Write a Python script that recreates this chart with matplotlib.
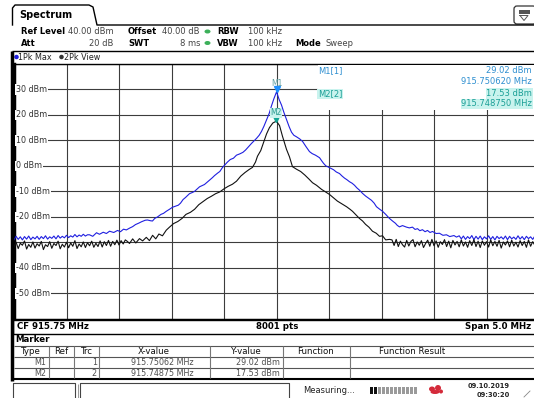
import numpy as np
import matplotlib.pyplot as plt
from matplotlib.patches import Rectangle, Ellipse, FancyBboxPatch

cf_mhz = 915.75
span_mhz = 5.0
ref_level = 40.0
level_ticks = [30, 20, 10, 0, -10, -20, -40, -50]
level_labels = ['30 dBm', '20 dBm', '10 dBm', '0 dBm', '-10 dBm', '-20 dBm', '-40 dBm', '-50 dBm']

# Trace 1 (1Pk Max, blau) - Rauschen links, -2500..-1800 kHz
trc1_noise_left = [-28.9, -27.6, -28.8, -27.8, -29.0, -27.7, -28.7, -27.5, -28.9, -27.9,
                   -28.6, -27.6, -28.8, -27.7, -28.5, -27.4, -28.7, -27.8, -28.4, -27.5,
                   -28.6, -27.3, -28.3, -27.6, -28.2, -27.2, -28.1, -27.4, -27.9, -26.9,
                   -27.8, -27.1, -27.6, -26.8, -27.5, -27.0]
# Trace 1 - Signalverlauf (Offset zur Mittenfrequenz in kHz)
trc1_khz = [-1781, -1750, -1714, -1686, -1650, -1620, -1590, -1550, -1514, -1486,
            -1457, -1430, -1400, -1370, -1343, -1310, -1286, -1250, -1229, -1200,
            -1181, -1160, -1133, -1100, -1076, -1050, -1019, -990, -962, -935,
            -914, -890, -867, -829, -800, -781, -750, -733, -700, -686,
            -660, -638, -610, -590, -560, -540, -514, -490, -467, -440,
            -410, -381, -350, -320, -295, -260, -238, -210, -190, -165,
            -143, -120, -95, -70, -48, -25, 0.62,
            25, 48, 70, 95, 120, 143, 165, 190, 220, 248,
            280, 314, 340, 371, 410, 430, 448, 470, 486, 515,
            543, 570, 600, 625, 648, 670, 695, 720, 743, 765,
            790, 820, 848, 875, 905, 930, 952, 980, 1010, 1040,
            1076, 1105, 1133, 1150, 1171, 1200, 1238, 1265, 1295, 1320,
            1343, 1365, 1390, 1415, 1438, 1462, 1486, 1520, 1552, 1585,
            1619, 1650, 1690, 1714]
trc1_dbm = [-27.0, -27.6, -26.2, -26.8, -26.0, -26.5, -25.6, -26.1, -25.3, -25.8,
            -24.8, -25.1, -24.4, -23.8, -23.0, -22.4, -21.9, -21.3, -21.2, -21.5,
            -21.6, -20.6, -20.0, -19.0, -18.6, -17.8, -17.0, -16.2, -15.8, -15.4,
            -14.6, -13.2, -12.4, -10.9, -10.4, -10.0, -8.8, -8.2, -7.6, -7.3,
            -6.4, -5.6, -4.6, -3.8, -2.8, -2.2, -0.6, 0.5, 1.5, 2.5,
            3.0, 4.2, 4.7, 5.3, 6.2, 7.8, 8.8, 10.0, 10.8, 12.0,
            13.5, 15.5, 18.0, 20.5, 23.5, 26.3, 29.02,
            26.0, 23.8, 21.0, 18.2, 15.4, 13.2, 12.0, 11.4, 10.6, 9.6,
            7.6, 5.6, 4.8, 4.2, 3.2, 2.0, 1.0, 0.0, -0.3, -0.9,
            -1.5, -2.4, -3.0, -4.0, -4.8, -5.4, -6.2, -6.8, -7.6, -8.6,
            -9.5, -10.8, -11.8, -12.6, -13.5, -14.6, -16.0, -16.9, -17.8, -19.0,
            -20.6, -21.6, -22.5, -23.3, -23.9, -23.4, -24.0, -24.3, -24.0, -24.9,
            -24.6, -25.4, -25.0, -25.8, -25.3, -26.1, -25.7, -26.5, -26.4, -27.2,
            -27.0, -27.7, -27.3, -27.9]
# Trace 1 - Rauschen rechts, 1740..2500 kHz
trc1_noise_right = [-27.4, -28.6, -27.5, -28.8, -27.7, -28.5, -27.3, -28.9, -27.6, -28.7,
                    -27.5, -28.9, -27.8, -28.6, -27.4, -28.8, -27.7, -29.0, -27.6, -28.5,
                    -27.8, -28.7, -27.5, -28.9, -27.6, -28.6, -27.9, -28.8, -27.4, -28.7,
                    -27.7, -28.9, -27.6, -28.5, -27.8, -28.8, -27.5, -28.6, -27.9]

# Trace 2 (2Pk View, schwarz) - Rauschen links, -2500..-1420 kHz
trc2_noise_left = [-31.8, -29.9, -32.4, -30.3, -31.1, -29.4, -32.6, -30.8, -31.9, -29.8,
                   -32.2, -30.5, -31.4, -29.6, -32.8, -30.9, -31.6, -29.7, -32.3, -30.4,
                   -31.2, -29.5, -32.5, -30.7, -31.8, -29.9, -32.1, -30.2, -31.5, -29.3,
                   -32.4, -30.6, -31.7, -29.8, -32.0, -30.1, -31.3, -29.5, -31.9, -30.3,
                   -31.6, -29.4, -31.8, -29.7, -31.2, -29.2, -31.5, -29.6, -30.9, -29.1,
                   -31.0, -29.3, -30.6, -29.0, -29.6]
trc2_khz = [-1400, -1370, -1340, -1305, -1275, -1240, -1210, -1180, -1150, -1120,
            -1086, -1050, -1019, -980, -940, -900, -862, -820, -780, -740,
            -700, -660, -620, -580, -540, -500, -460, -420, -381, -340,
            -300, -260, -229, -200, -181, -150, -120, -95, -67, -35, -1.25,
            29, 57, 95, 124, 152, 190, 230, 270, 310, 343,
            381, 429, 470, 505, 545, 580, 620, 667, 700, 724,
            760, 790, 820, 848, 880, 914, 950, 981, 1010, 1040, 1076]
trc2_dbm = [-30.4, -28.6, -30.2, -28.5, -29.4, -28.0, -29.3, -27.2, -28.6, -26.7,
            -27.4, -25.2, -24.0, -22.6, -21.8, -20.6, -19.0, -18.2, -17.0, -15.2,
            -14.0, -12.8, -11.9, -10.9, -10.2, -9.0, -8.0, -7.2, -6.0, -4.0,
            -2.6, -1.4, -0.6, 1.5, 3.8, 6.0, 9.5, 12.5, 15.0, 16.8, 17.53,
            15.8, 11.6, 6.5, 3.5, -0.3, -1.3, -2.2, -3.6, -5.2, -6.6,
            -7.6, -9.2, -10.3, -11.2, -12.6, -13.8, -14.8, -16.0, -17.0, -17.8,
            -19.3, -20.6, -21.6, -22.9, -24.0, -25.6, -26.4, -27.6, -27.4, -29.0, -28.8]
# Trace 2 - Rauschen rechts, 1100..2500 kHz
trc2_noise_right = [-29.0, -31.2, -28.8, -31.6, -29.5, -30.9, -31.8, -29.2, -31.4, -29.6,
                    -28.9, -31.7, -29.8, -31.1, -29.3, -32.0, -30.4, -29.1, -31.5, -28.8,
                    -31.3, -29.4, -31.9, -29.7, -30.8, -28.9, -31.6, -29.5, -32.1, -29.2,
                    -31.0, -29.6, -31.7, -29.0, -31.4, -29.8, -31.9, -29.3, -31.2, -28.9,
                    -31.6, -29.5, -32.0, -29.4, -31.1, -29.7, -31.8, -29.0, -31.3, -29.6,
                    -31.5, -29.2, -32.2, -29.8, -31.0, -29.4, -31.7, -29.1, -31.4, -29.9,
                    -31.8, -29.3, -31.2, -29.6, -31.9, -29.0, -31.5, -29.7, -31.1, -29.4,
                    -30.6]

# Marker
marker_names = ['M1', 'M2']
marker_trc = ['1', '2']
marker_freq = [915.75062, 915.74875]
marker_level = [29.02, 17.53]
marker_xtxt = ['915.75062 MHz', '915.74875 MHz']
marker_ytxt = ['29.02 dBm', '17.53 dBm']

# Traces zusammensetzen
f1 = np.concatenate([np.linspace(-2500, -1800, len(trc1_noise_left)), trc1_khz,
                     np.linspace(1740, 2500, len(trc1_noise_right))]) / 1000 + cf_mhz
l1 = np.concatenate([trc1_noise_left, trc1_dbm, trc1_noise_right])
f2 = np.concatenate([np.linspace(-2500, -1420, len(trc2_noise_left)), trc2_khz,
                     np.linspace(1100, 2500, len(trc2_noise_right))]) / 1000 + cf_mhz
l2 = np.concatenate([trc2_noise_left, trc2_dbm, trc2_noise_right])

W, H = 534, 398
fig = plt.figure(figsize=(W / 100, H / 100), dpi=100)
fig.patch.set_facecolor('white')

# Diagramm
ax = fig.add_axes([14 / W, 79 / H, 525 / W, 255.2 / H], zorder=1)
ax.set_facecolor('white')
ax.set_xlim(cf_mhz - span_mhz / 2, cf_mhz + span_mhz / 2)
ax.set_ylim(ref_level - 100, ref_level)
ax.set_xticks(cf_mhz + np.arange(-2.5, 2.51, 0.5))
ax.set_yticks(np.arange(-60, 41, 10))
ax.tick_params(length=0, labelbottom=False, labelleft=False)
ax.grid(True, color='#3c3c3c', lw=0.8)
ax.set_axisbelow(True)
ax.spines['right'].set_visible(False)
ax.spines['left'].set_linewidth(2.5)
for s in ['top', 'bottom']:
    ax.spines[s].set_linewidth(1.0)

ax.plot(f1, l1, color='#1f1fe0', lw=0.8, zorder=3)
ax.plot(f2, l2, color='#111111', lw=0.8, zorder=4)

for lvl, lab in zip(level_ticks, level_labels):
    ax.text(0.004, lvl, lab, transform=ax.get_yaxis_transform(), fontsize=5.8,
            color='#333333', va='center', ha='left', zorder=5,
            bbox=dict(fc='white', ec='none', pad=0.6))

# Markersymbole
ax.plot(marker_freq[0], marker_level[0] + 1, marker='v', color='#1e90ff', ms=5, zorder=6)
ax.plot(marker_freq[1], marker_level[1] + 1, marker='v', color='#12a595', ms=5, zorder=6)
ax.text(marker_freq[0], marker_level[0] + 3.3, 'M1', fontsize=5.5, color='#5f9ea0',
        ha='center', va='center', zorder=6)
ax.text(marker_freq[1], marker_level[1] + 3.3, 'M2', fontsize=5.5, color='#2a9a90',
        ha='center', va='center', zorder=6, bbox=dict(fc='#c9f3ee', ec='none', pad=0.3))

# Overlay in Pixelkoordinaten
ov = fig.add_axes([0, 0, 1, 1], zorder=5)
ov.set_xlim(0, W)
ov.set_ylim(H, 0)
ov.axis('off')
ov.patch.set_alpha(0)

def line(xs, ys, lw=1.0, c='black'):
    ov.plot(xs, ys, color=c, lw=lw, solid_capstyle='butt')

# Tab "Spectrum"
ov.plot([12.5, 12.5, 15, 89, 93, 97, 534], [25, 8, 5, 5, 7, 25, 25], color='black', lw=1)
ov.text(19, 15.5, 'Spectrum', fontsize=7, fontweight='bold', va='center')
ov.add_patch(FancyBboxPatch((514, 6), 22, 18, boxstyle='round,pad=0,rounding_size=3',
                            fc='white', ec='#333333', lw=0.9))
ov.add_patch(Rectangle((519, 10), 11, 3.5, fc='#555555', ec='none'))
ov.plot([520, 528, 524, 520], [15.5, 15.5, 20.5, 15.5], color='#555555', lw=0.7)

# Kopfzeile
hdr = dict(fontsize=6, va='center')
ov.text(21, 31.5, 'Ref Level', fontweight='bold', **hdr)
ov.text(68, 31.5, '40.00 dBm', color='#444444', **hdr)
ov.text(128, 31.5, 'Offset', fontweight='bold', **hdr)
ov.text(200, 31.5, '40.00 dB', color='#444444', ha='right', fontsize=6, va='center')
ov.text(21, 43, 'Att', fontweight='bold', **hdr)
ov.text(113, 43, '20 dB', color='#444444', ha='right', fontsize=6, va='center')
ov.text(128, 43, 'SWT', fontweight='bold', **hdr)
ov.text(200, 43, '8 ms', color='#444444', ha='right', fontsize=6, va='center')
for yy, lab in [(31.5, 'RBW'), (43, 'VBW')]:
    ov.add_patch(Ellipse((207.5, yy), 6, 4, fc='#3cb05a', ec='none'))
    ov.text(217, yy, lab, fontweight='bold', **hdr)
    ov.text(248, yy, '100 kHz', color='#444444', **hdr)
ov.text(295, 43, 'Mode', fontweight='bold', **hdr)
ov.text(325, 43, 'Sweep', color='#444444', **hdr)
line([12, 534], [50.5, 50.5])

# Trace-Zeile
ov.add_patch(Ellipse((16.5, 57), 4.5, 4.5, fc='#1f1fe0', ec='none'))
ov.text(18.5, 57, '1Pk Max', fontsize=5.8, va='center', color='#222222')
ov.add_patch(Ellipse((61.5, 57), 4.5, 4.5, fc='#333333', ec='none'))
ov.text(64, 57, '2Pk View', fontsize=5.8, va='center', color='#222222')
line([12, 12], [50.5, 381], lw=2.5)

# Markerinfo oben rechts
ov.add_patch(Rectangle((318, 64.8), 222, 45, fc='white', ec='none'))
mk1 = dict(fontsize=6, va='center', color='#2e8fd0')
mk2 = dict(fontsize=6, va='center', color='#1a9f96')
ov.text(318, 70.5, 'M1[1]', **mk1)
ov.text(532, 70.5, marker_ytxt[0], ha='right', **mk1)
ov.text(532, 81, '915.750620 MHz', ha='right', **mk1)
hl = dict(fc='#c9f3ee', ec='none', pad=0.4)
ov.text(318, 94, 'M2[2]', bbox=hl, **mk2)
ov.text(532, 93.5, marker_ytxt[1], ha='right', bbox=hl, **mk2)
ov.text(532, 104, '915.748750 MHz', ha='right', bbox=hl, **mk2)

# Fußzeile des Diagramms
ov.add_patch(Rectangle((13, 319.5), 525, 14, fc='white', ec='black', lw=1))
ft = dict(fontsize=6.2, fontweight='bold', va='center')
ov.text(17, 326.5, 'CF 915.75 MHz', **ft)
ov.text(277, 326.5, '8001 pts', ha='center', **ft)
ov.text(531, 326.5, 'Span 5.0 MHz', ha='right', **ft)

# Markertabelle
ov.text(15, 339.5, 'Marker', fontsize=6.2, fontweight='bold', va='center')
for yy in [345.5, 357, 367.5]:
    line([14, 534], [yy, yy], lw=0.8, c='#555555')
line([12, 534], [379, 379], lw=1.5)
for xx in [49, 74, 99, 210, 283, 350]:
    line([xx, xx], [345.5, 378], lw=0.8, c='#777777')
th = dict(fontsize=6.2, va='center', ha='center', color='#111111')
for xx, lab in [(31, 'Type'), (61.5, 'Ref'), (86.5, 'Trc'), (154, 'X-value'),
                (246, 'Y-value'), (316, 'Function'), (412, 'Function Result')]:
    ov.text(xx, 351.5, lab, **th)
td = dict(fontsize=5.8, va='center', ha='right', color='#505050')
for i, yy in enumerate([362.5, 373]):
    ov.text(46, yy, marker_names[i], **td)
    ov.text(97, yy, marker_trc[i], **td)
    ov.text(194, yy, marker_xtxt[i], **td)
    ov.text(280, yy, marker_ytxt[i], **td)

# Statusleiste
ov.plot([13, 13, 75, 75], [398, 382.5, 382.5, 398], color='#444444', lw=0.8)
ov.plot([80, 80, 289, 289], [398, 382.5, 382.5, 398], color='#444444', lw=0.8)
line([78, 78], [384, 398], lw=0.6, c='#888888')
ov.text(303, 390.5, 'Measuring...', fontsize=6, va='center', color='#222222')
for k in range(12):
    c = '#111111' if k < 2 else '#9a9a9a'
    ov.add_patch(Rectangle((370 + k * 4, 386.5), 3.2, 7, fc=c, ec='none'))
for cx, cy, w, h in [(432, 389, 6, 5), (438, 388, 6, 6), (435, 392, 9, 4), (441, 391.5, 4, 4)]:
    ov.add_patch(Ellipse((cx, cy), w, h, fc='#d42a3a', ec='none'))
ov.text(510, 386.5, '09.10.2019', fontsize=4.8, fontweight='bold', ha='right', va='center',
        color='#222222')
ov.text(510, 395, '09:30:20', fontsize=4.8, fontweight='bold', ha='right', va='center',
        color='#222222')
ov.plot([524, 530], [397, 391], color='#888888', lw=0.6)

fig.savefig('out.png', dpi=100)
